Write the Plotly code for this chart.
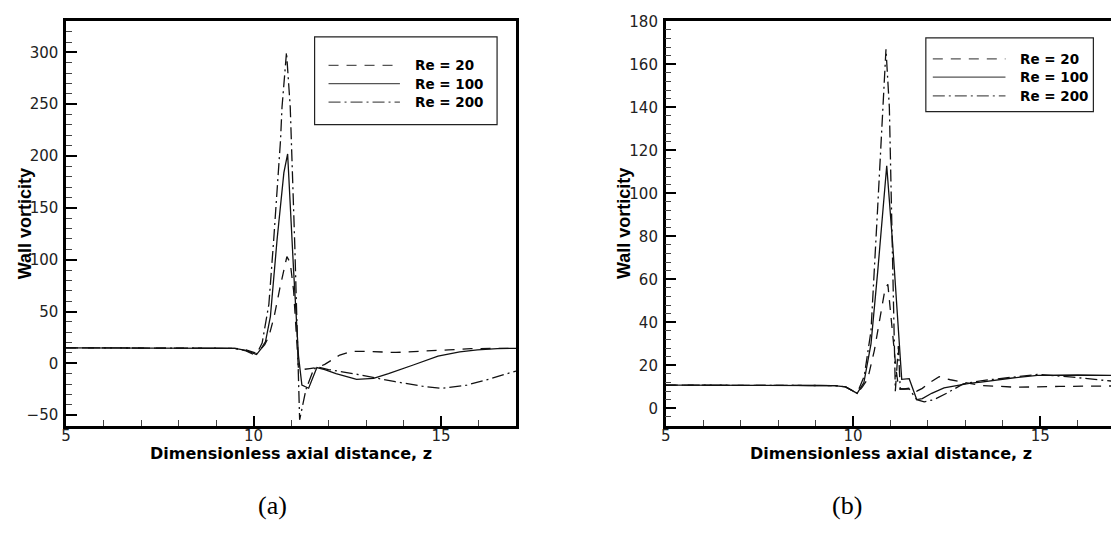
import plotly.graph_objects as go

W, H = 1111, 533

# ---------------- data: panel (a) ----------------
z_a_re20 = [5, 9.0, 9.5, 9.8, 10.05, 10.2, 10.3, 10.41, 10.55, 10.7, 10.8, 10.89, 10.98, 11.07, 11.2, 11.3,
            11.5, 11.7, 11.9, 12.05, 12.3, 12.6, 13.0, 13.8, 14.5, 15.2, 15.8, 16.5, 17]
w_a_re20 = [15, 15, 14.5, 13, 10, 14, 18, 26, 45, 72, 90, 103, 97, 70, -6, -6,
            -5, -4, -1, 2.5, 8, 11.5, 11.5, 10.5, 11.5, 13, 14.2, 14.5, 14.5]

z_a_re100 = [5, 9.0, 9.5, 9.8, 10.08, 10.2, 10.32, 10.45, 10.63, 10.81, 10.91, 11.07, 11.2, 11.29, 11.47,
             11.69, 11.9, 12.2, 12.75, 13.2, 13.6, 14.26, 14.92, 15.5, 15.97, 16.5, 17]
w_a_re100 = [15, 15, 14.5, 12.5, 8.5, 14, 21, 45, 120, 184, 202, 89, 7, -21, -24,
             -4, -6, -10, -15.5, -14.5, -10, -1.6, 7, 11, 13, 14.3, 14.5]

z_a_re200 = [5, 9.0, 9.5, 9.8, 10.06, 10.23, 10.41, 10.54, 10.72, 10.76, 10.88, 10.98, 11.1, 11.23, 11.4,
             11.6, 11.69, 12.0, 12.83, 13.78, 14.5, 15.02, 15.69, 16.3, 17]
w_a_re200 = [15, 15, 14.5, 12, 7.5, 19.6, 57, 120, 215, 247, 300, 247, 115, -54.5, -25,
             -6, -3.2, -6, -11, -17.7, -22, -24.2, -21, -15, -7.4]

# ---------------- data: panel (b) ----------------
z_b_re20 = [5, 9.0, 9.5, 9.8, 10.11, 10.25, 10.39, 10.57, 10.75, 10.85, 10.93, 11.01, 11.15, 11.22, 11.37,
            11.55, 11.7, 11.85, 12.05, 12.3, 12.6, 13.0, 13.42, 13.94, 14.36, 15.5, 16.89]
w_b_re20 = [10.8, 10.8, 10.6, 10, 7, 10, 13.5, 27, 45.5, 55, 57.7, 42.5, 18, 9, 9,
            9.5, 8, 9.3, 12, 14.7, 13.3, 12, 10.6, 10.2, 9.8, 10.2, 10.4]

z_b_re100 = [5, 9.0, 9.5, 9.8, 10.11, 10.29, 10.48, 10.66, 10.79, 10.9, 11.06, 11.23, 11.3, 11.5, 11.7,
             11.85, 12.1, 12.43, 13.14, 13.42, 14.2, 14.92, 16.0, 16.89]
w_b_re100 = [10.8, 10.8, 10.6, 10, 7, 12, 30, 63.8, 91, 112.8, 76, 28.8, 13.5, 13.8, 4.1,
             4.5, 7, 9.5, 11.7, 12.2, 14, 15.3, 15.5, 15.3]

z_b_re200 = [5, 9.0, 9.5, 9.8, 10.11, 10.3, 10.48, 10.66, 10.78, 10.88, 10.97, 11.13, 11.21, 11.26, 11.5,
             11.7, 11.9, 12.17, 12.5, 12.94, 13.5, 14.2, 14.92, 15.87, 16.89]
w_b_re200 = [10.8, 10.8, 10.6, 10, 7, 15, 36, 94, 134, 167, 140, 8, 29, 9, 9,
             4, 3, 4.1, 7, 11.4, 13, 14.5, 15.8, 14.5, 12.7]

series_names = ["Re = 20", "Re = 100", "Re = 200"]
dash_styles = ["10px,8px", "solid", "12px,4px,2px,4px"]

x_title = "Dimensionless axial distance, z"
y_title = "Wall vorticity"
captions = ["(a)", "(b)"]

# ---------------- figure ----------------
fig = go.Figure()
panels = [
    ("x", "y", [(z_a_re20, w_a_re20), (z_a_re100, w_a_re100), (z_a_re200, w_a_re200)]),
    ("x2", "y2", [(z_b_re20, w_b_re20), (z_b_re100, w_b_re100), (z_b_re200, w_b_re200)]),
]
for xa, ya, sers in panels:
    for (zz, ww), name, dash in zip(sers, series_names, dash_styles):
        fig.add_trace(go.Scatter(x=zz, y=ww, mode="lines", name=name, xaxis=xa, yaxis=ya,
                                 showlegend=False,
                                 line=dict(color="#111111", width=1.3, dash=dash)))


def px(x):
    return x / W


def py(y):
    return 1 - y / H


ydom = [py(423.7), py(12.5)]
tickfont = dict(family="DejaVu Sans, sans-serif", size=15, color="#222222")

common_x = dict(showgrid=False, zeroline=False, showline=True, linecolor="black", linewidth=2.5,
                ticks="inside", ticklen=10, tickwidth=2, tickcolor="black", dtick=5, tick0=0,
                minor=dict(dtick=1, ticks="inside", ticklen=6, tickwidth=1, tickcolor="#444444"),
                tickfont=tickfont, ticklabelstandoff=-5)
common_y = dict(showgrid=False, zeroline=False, showline=True, linecolor="black", linewidth=2.5,
                ticks="inside", ticklen=11, tickwidth=2, tickcolor="black", tickfont=tickfont,
                ticklabelstandoff=2)

fig.update_layout(
    width=W, height=H, margin=dict(l=0, r=0, t=0, b=0),
    paper_bgcolor="white", plot_bgcolor="white",
    xaxis=dict(domain=[px(61.3), px(513.3)], range=[5, 17], anchor="y", mirror=True, **common_x),
    yaxis=dict(domain=ydom, range=[-60, 330], anchor="x", mirror=True, dtick=50, tick0=0,
               minor=dict(dtick=10, ticks="inside", ticklen=6, tickwidth=1, tickcolor="#444444"),
               **common_y),
    xaxis2=dict(domain=[px(663.7), 1.0], range=[5, 5 + (W - 663.7) / 37.63], anchor="y2", mirror=True,
                **common_x),
    yaxis2=dict(domain=ydom, range=[-8, 180], anchor="x2", mirror=False, dtick=20, tick0=0,
                minor=dict(dtick=4, ticks="inside", ticklen=6, tickwidth=1, tickcolor="#444444"),
                **common_y),
    showlegend=False,
)

xtitle_font = dict(family="DejaVu Sans, sans-serif", size=16, color="black")
ytitle_font = dict(family="Liberation Sans, Arial, sans-serif", size=18, color="black")
annots = []
for cx in [287.3, 889.7]:
    annots.append(dict(x=px(cx), y=py(452), xref="paper", yref="paper", text="<b>%s</b>" % x_title,
                       showarrow=False, font=xtitle_font, xanchor="center", yanchor="middle"))
for cx in [20.0, 622.5]:
    annots.append(dict(x=px(cx), y=py(218), xref="paper", yref="paper", text="<b>%s</b>" % y_title,
                       showarrow=False, font=ytitle_font, textangle=-90, xanchor="center", yanchor="middle"))
for cx, cap in zip([269, 846], captions):
    annots.append(dict(x=px(cx), y=py(505), xref="paper", yref="paper", text=cap, showarrow=False,
                       font=dict(family="Liberation Serif, serif", size=26, color="black"),
                       xanchor="center", yanchor="middle"))

shapes = []
legends = [
    dict(box=(311, 28.3, 494.3, 117.7), lx=(325, 396.7), rows=[57.3, 76, 94.7], tx=410),
    dict(box=(925, 29.3, 1093.3, 104.3), lx=(932, 1005), rows=[50.7, 69.3, 88.3], tx=1018),
]
for lg in legends:
    x0, y0, x1, y1 = lg["box"]
    shapes.append(dict(type="rect", xref="paper", yref="paper", x0=px(x0), x1=px(x1), y0=py(y1), y1=py(y0),
                       line=dict(color="#222222", width=1.2), fillcolor="white", layer="above"))
    for ry, name, dash in zip(lg["rows"], series_names, dash_styles):
        shapes.append(dict(type="line", xref="paper", yref="paper", x0=px(lg["lx"][0]), x1=px(lg["lx"][1]),
                           y0=py(ry), y1=py(ry), line=dict(color="#555555", width=1.3, dash=dash),
                           layer="above"))
        annots.append(dict(x=px(lg["tx"]), y=py(ry), xref="paper", yref="paper", text="<b>%s</b>" % name,
                           showarrow=False, xanchor="left", yanchor="middle",
                           font=dict(family="DejaVu Sans, sans-serif", size=13.5, color="black")))

fig.update_layout(annotations=annots, shapes=shapes)
fig.write_html("out.html")
